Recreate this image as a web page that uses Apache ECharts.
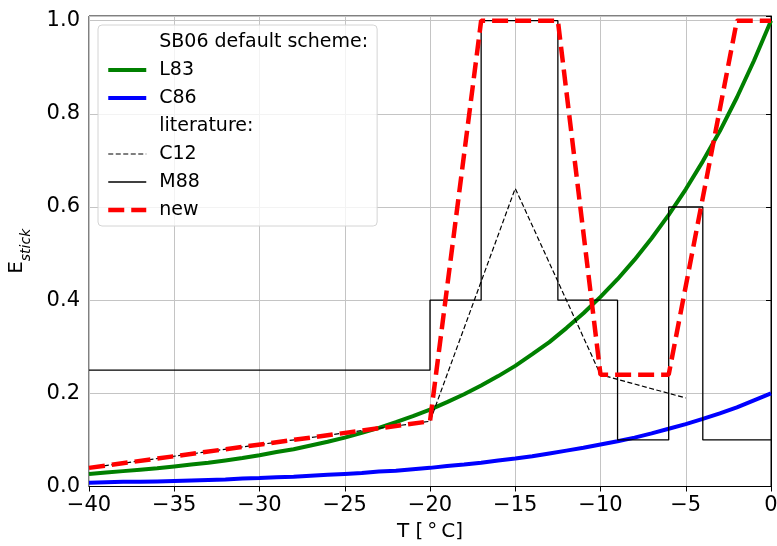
<!DOCTYPE html>
<html>
<head>
<meta charset="utf-8">
<script src="https://cdn.jsdelivr.net/npm/echarts@6.0.0/dist/echarts.min.js"></script>
<style>
  html, body { margin: 0; padding: 0; background: #fff; }
  #chart { width: 777px; height: 546px; }
</style>
</head>
<body>
<div id="chart"></div>
<script>
// Temperature grid (°C) for the smooth parameterisations, 1 K steps
const tempGrid = [-40, -39, -38, -37, -36, -35, -34, -33, -32, -31, -30,
                  -29, -28, -27, -26, -25, -24, -23, -22, -21, -20,
                  -19, -18, -17, -16, -15, -14, -13, -12, -11, -10,
                  -9, -8, -7, -6, -5, -4, -3, -2, -1, 0];
// SB06 default scheme
const l83 = [0.027, 0.030, 0.033, 0.036, 0.039, 0.043, 0.047, 0.051, 0.056, 0.061, 0.067,
             0.074, 0.080, 0.088, 0.096, 0.105, 0.115, 0.126, 0.138, 0.151, 0.165,
             0.181, 0.198, 0.217, 0.237, 0.259, 0.284, 0.310, 0.340, 0.372, 0.407,
             0.445, 0.487, 0.533, 0.583, 0.638, 0.698, 0.763, 0.835, 0.914, 1.000];
const c86 = [0.008, 0.009, 0.010, 0.010, 0.011, 0.012, 0.013, 0.014, 0.015, 0.017, 0.018,
             0.020, 0.021, 0.023, 0.025, 0.027, 0.029, 0.032, 0.034, 0.037, 0.040,
             0.044, 0.047, 0.051, 0.056, 0.060, 0.065, 0.071, 0.077, 0.083, 0.090,
             0.097, 0.105, 0.114, 0.124, 0.134, 0.145, 0.157, 0.170, 0.185, 0.200];
// Literature
const c12T = [-40, -20, -15, -10, -5];
const c12E = [0.04, 0.14, 0.64, 0.24, 0.19];
const m88Edges = [-40, -20, -17, -12.5, -9, -6, -4, 0];
const m88E = [0.25, 0.40, 1.00, 0.40, 0.10, 0.60, 0.10];
// New scheme
const newT = [-40, -20, -17, -12.5, -10, -6, -2, 0];
const newE = [0.04, 0.14, 1.00, 1.00, 0.24, 0.24, 1.00, 1.00];

const FONT = 'DejaVu Sans';

const zip = (xs, ys) => xs.map((x, i) => [x, ys[i]]);
const stepData = [];
m88E.forEach((v, i) => {
  stepData.push([m88Edges[i], v]);
  stepData.push([m88Edges[i + 1], v]);
});

const chart = echarts.init(document.getElementById('chart'), null, { renderer: 'canvas' });

const hidden = { type: 'line', data: [], symbol: 'none', lineStyle: { width: 0, opacity: 0 } };
const header = name => ({ name, lineStyle: { opacity: 0 }, itemStyle: { opacity: 0 } });
const legendLine = (name, ls) => ({ name, lineStyle: ls, itemStyle: { opacity: 0 } });

chart.setOption({
  animation: false,
  grid: {
    left: 89, right: 6, top: 16, bottom: 59.5,
    outerBoundsMode: 'none',
    show: true, borderColor: '#000', borderWidth: 1, backgroundColor: 'transparent'
  },
  xAxis: {
    type: 'value', min: -40, max: 0, interval: 5,
    name: 'T [\u2009\u00b0\u2009C]',
    nameLocation: 'middle', nameGap: 34,
    nameTextStyle: { fontFamily: FONT, fontSize: 20, color: '#000' },
    axisLine: { show: true, lineStyle: { color: '#000', width: 1 } },
    axisTick: { show: true, inside: false, length: 5, lineStyle: { color: '#000' } },
    axisLabel: {
      fontFamily: FONT, fontSize: 21, color: '#000', margin: 9,
      formatter: v => String(v).replace('-', '\u2212')
    },
    splitLine: { show: true, lineStyle: { color: '#c4c4c4', width: 1 } }
  },
  yAxis: {
    type: 'value', min: 0, max: 1.01, interval: 0.2,
    name: '{e|E}{s|stick}',
    nameLocation: 'middle', nameRotate: 90, nameGap: 56,
    nameTextStyle: {
      fontFamily: FONT, color: '#000',
      rich: {
        e: { fontFamily: FONT, fontSize: 20, color: '#000', lineHeight: 26, verticalAlign: 'top' },
        s: { fontFamily: FONT, fontSize: 14, fontStyle: 'italic', color: '#000', lineHeight: 26, verticalAlign: 'bottom' }
      }
    },
    axisLine: { show: true, lineStyle: { color: '#000', width: 1 } },
    axisTick: { show: true, inside: false, length: 5, lineStyle: { color: '#000' } },
    axisLabel: {
      fontFamily: FONT, fontSize: 21, color: '#000', margin: 9,
      formatter: v => (Math.abs(v * 5 - Math.round(v * 5)) > 1e-6 ? '' : v.toFixed(1))
    },
    splitLine: { show: true, lineStyle: { color: '#c4c4c4', width: 1 } }
  },
  legend: {
    orient: 'vertical', left: 98, top: 25,
    padding: [7, 9, 6, 8],
    itemWidth: 38, itemHeight: 20, itemGap: 8,
    selectedMode: false,
    backgroundColor: 'rgba(255,255,255,0.8)',
    borderColor: '#d4d4d4', borderWidth: 1, borderRadius: 4,
    itemStyle: { opacity: 0 },
    textStyle: { fontFamily: FONT, fontSize: 19, color: '#000', lineHeight: 20, padding: [0, 0, 0, 8] },
    data: [
      header('SB06 default scheme:'),
      legendLine('L83', { color: '#008000', width: 4 }),
      legendLine('C86', { color: '#0000ff', width: 4 }),
      header('literature:'),
      legendLine('C12', { color: '#000', width: 1.2, type: [5, 2.5] }),
      legendLine('M88', { color: '#000', width: 1.3 }),
      legendLine('new', { color: '#ff0000', width: 4.5, type: [16, 7] })
    ]
  },
  series: [
    Object.assign({ name: 'SB06 default scheme:' }, hidden),
    {
      name: 'L83', type: 'line', symbol: 'none', z: 2,
      data: zip(tempGrid, l83),
      lineStyle: { color: '#008000', width: 4 }, itemStyle: { color: '#008000' }
    },
    {
      name: 'C86', type: 'line', symbol: 'none', z: 2,
      data: zip(tempGrid, c86),
      lineStyle: { color: '#0000ff', width: 4 }, itemStyle: { color: '#0000ff' }
    },
    Object.assign({ name: 'literature:' }, hidden),
    {
      name: 'C12', type: 'line', symbol: 'none', z: 3,
      data: zip(c12T, c12E),
      lineStyle: { color: '#000', width: 1.2, type: [5, 2.5] }, itemStyle: { color: '#000' }
    },
    {
      name: 'M88', type: 'line', symbol: 'none', z: 3,
      data: stepData,
      lineStyle: { color: '#000', width: 1.3 }, itemStyle: { color: '#000' }
    },
    {
      name: 'new', type: 'line', symbol: 'none', z: 4,
      data: zip(newT, newE),
      lineStyle: { color: '#ff0000', width: 4.5, type: [16, 7] }, itemStyle: { color: '#ff0000' }
    }
  ]
});
</script>
</body>
</html>
